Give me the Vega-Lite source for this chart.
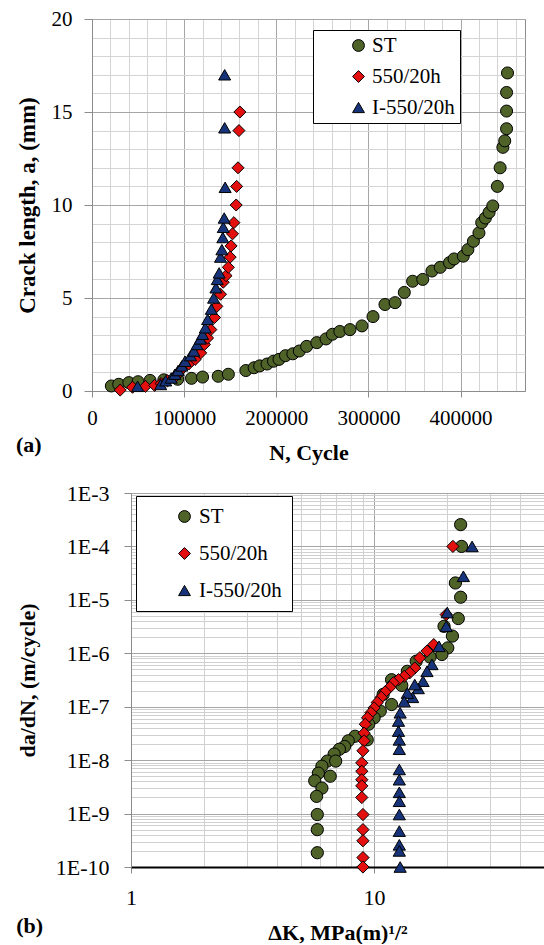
{
  "$schema": "https://vega.github.io/schema/vega-lite/v6.json",
  "padding": {"left": 15, "top": 7, "right": 0, "bottom": 0},
  "spacing": 18,
  "config": {
    "font": "Liberation Serif",
    "view": {"stroke": "#8c8c8c", "strokeWidth": 1},
    "axis": {"labelFont": "Liberation Serif", "titleFont": "Liberation Serif", "labelColor": "black", "titleColor": "black", "titleFontWeight": "bold", "labelOverlap": false, "labelFlush": false, "domainColor": "#8c8c8c", "tickColor": "#8c8c8c"},
    "legend": {"labelFont": "Liberation Serif", "labelColor": "black", "labelFontSize": 21, "strokeColor": "black", "fillColor": "white", "symbolStrokeColor": "black", "symbolStrokeWidth": 1, "symbolSize": 140},
    "title": {"font": "Liberation Serif", "fontWeight": "bold", "color": "black"}
  },
  "datasets": {
    "a": [
      {"N": 21000, "a": 0.27, "series": "ST"}, {"N": 29000, "a": 0.36, "series": "ST"}, {"N": 40000, "a": 0.45, "series": "ST"}, {"N": 50000, "a": 0.5, "series": "ST"}, {"N": 63000, "a": 0.57, "series": "ST"}, {"N": 78000, "a": 0.6, "series": "ST"}, {"N": 93000, "a": 0.63, "series": "ST"}, {"N": 108000, "a": 0.68, "series": "ST"}, {"N": 120000, "a": 0.75, "series": "ST"}, {"N": 137000, "a": 0.79, "series": "ST"}, {"N": 148000, "a": 0.9, "series": "ST"}, {"N": 167000, "a": 1.1, "series": "ST"}, {"N": 176000, "a": 1.25, "series": "ST"}, {"N": 182000, "a": 1.35, "series": "ST"}, {"N": 190000, "a": 1.45, "series": "ST"}, {"N": 197000, "a": 1.6, "series": "ST"}, {"N": 203000, "a": 1.7, "series": "ST"}, {"N": 210000, "a": 1.9, "series": "ST"}, {"N": 218000, "a": 2.0, "series": "ST"}, {"N": 225000, "a": 2.15, "series": "ST"}, {"N": 233000, "a": 2.4, "series": "ST"}, {"N": 244000, "a": 2.6, "series": "ST"}, {"N": 254000, "a": 2.8, "series": "ST"}, {"N": 261000, "a": 3.05, "series": "ST"}, {"N": 269000, "a": 3.2, "series": "ST"}, {"N": 280000, "a": 3.3, "series": "ST"}, {"N": 293000, "a": 3.5, "series": "ST"}, {"N": 305000, "a": 4.0, "series": "ST"}, {"N": 318000, "a": 4.65, "series": "ST"}, {"N": 329000, "a": 4.75, "series": "ST"}, {"N": 339000, "a": 5.3, "series": "ST"}, {"N": 348000, "a": 5.9, "series": "ST"}, {"N": 359000, "a": 6.0, "series": "ST"}, {"N": 369000, "a": 6.45, "series": "ST"}, {"N": 378000, "a": 6.65, "series": "ST"}, {"N": 388000, "a": 6.9, "series": "ST"}, {"N": 393000, "a": 7.1, "series": "ST"}, {"N": 403000, "a": 7.25, "series": "ST"}, {"N": 408000, "a": 7.6, "series": "ST"}, {"N": 414000, "a": 8.05, "series": "ST"}, {"N": 420000, "a": 8.5, "series": "ST"}, {"N": 423000, "a": 9.05, "series": "ST"}, {"N": 427000, "a": 9.3, "series": "ST"}, {"N": 431000, "a": 9.6, "series": "ST"}, {"N": 435000, "a": 9.95, "series": "ST"}, {"N": 440000, "a": 11.0, "series": "ST"}, {"N": 443000, "a": 12.0, "series": "ST"}, {"N": 446000, "a": 13.1, "series": "ST"}, {"N": 448000, "a": 13.45, "series": "ST"}, {"N": 450000, "a": 14.1, "series": "ST"}, {"N": 450000, "a": 15.05, "series": "ST"}, {"N": 450000, "a": 16.05, "series": "ST"}, {"N": 451000, "a": 17.1, "series": "ST"},
      {"N": 30600, "a": 0.05, "series": "550/20h"}, {"N": 44000, "a": 0.2, "series": "550/20h"}, {"N": 58000, "a": 0.25, "series": "550/20h"}, {"N": 68000, "a": 0.3, "series": "550/20h"}, {"N": 75000, "a": 0.4, "series": "550/20h"}, {"N": 82000, "a": 0.55, "series": "550/20h"}, {"N": 91000, "a": 0.8, "series": "550/20h"}, {"N": 97000, "a": 1.15, "series": "550/20h"}, {"N": 105000, "a": 1.45, "series": "550/20h"}, {"N": 112000, "a": 1.7, "series": "550/20h"}, {"N": 118000, "a": 2.05, "series": "550/20h"}, {"N": 122000, "a": 2.5, "series": "550/20h"}, {"N": 125500, "a": 2.85, "series": "550/20h"}, {"N": 129000, "a": 3.3, "series": "550/20h"}, {"N": 133000, "a": 3.95, "series": "550/20h"}, {"N": 135500, "a": 4.55, "series": "550/20h"}, {"N": 139500, "a": 5.2, "series": "550/20h"}, {"N": 142500, "a": 5.85, "series": "550/20h"}, {"N": 145500, "a": 6.2, "series": "550/20h"}, {"N": 148000, "a": 6.65, "series": "550/20h"}, {"N": 150000, "a": 7.2, "series": "550/20h"}, {"N": 151000, "a": 7.8, "series": "550/20h"}, {"N": 152500, "a": 8.45, "series": "550/20h"}, {"N": 154000, "a": 9.05, "series": "550/20h"}, {"N": 156500, "a": 10.0, "series": "550/20h"}, {"N": 157000, "a": 11.0, "series": "550/20h"}, {"N": 158500, "a": 12.0, "series": "550/20h"}, {"N": 159500, "a": 14.0, "series": "550/20h"}, {"N": 160500, "a": 15.0, "series": "550/20h"},
      {"N": 49500, "a": 0.25, "series": "I-550/20h"}, {"N": 74500, "a": 0.35, "series": "I-550/20h"}, {"N": 80000, "a": 0.55, "series": "I-550/20h"}, {"N": 86000, "a": 0.7, "series": "I-550/20h"}, {"N": 90000, "a": 0.9, "series": "I-550/20h"}, {"N": 93500, "a": 1.1, "series": "I-550/20h"}, {"N": 97500, "a": 1.35, "series": "I-550/20h"}, {"N": 101000, "a": 1.6, "series": "I-550/20h"}, {"N": 107000, "a": 1.9, "series": "I-550/20h"}, {"N": 110500, "a": 2.15, "series": "I-550/20h"}, {"N": 114000, "a": 2.5, "series": "I-550/20h"}, {"N": 117500, "a": 2.8, "series": "I-550/20h"}, {"N": 120000, "a": 3.05, "series": "I-550/20h"}, {"N": 123000, "a": 3.4, "series": "I-550/20h"}, {"N": 125500, "a": 3.85, "series": "I-550/20h"}, {"N": 129500, "a": 4.4, "series": "I-550/20h"}, {"N": 132000, "a": 5.0, "series": "I-550/20h"}, {"N": 134500, "a": 5.55, "series": "I-550/20h"}, {"N": 136000, "a": 6.0, "series": "I-550/20h"}, {"N": 138000, "a": 6.35, "series": "I-550/20h"}, {"N": 139500, "a": 7.2, "series": "I-550/20h"}, {"N": 141000, "a": 7.6, "series": "I-550/20h"}, {"N": 142000, "a": 8.25, "series": "I-550/20h"}, {"N": 142500, "a": 8.8, "series": "I-550/20h"}, {"N": 143500, "a": 9.3, "series": "I-550/20h"}, {"N": 144500, "a": 10.95, "series": "I-550/20h"}, {"N": 144000, "a": 14.15, "series": "I-550/20h"}, {"N": 144000, "a": 17.0, "series": "I-550/20h"}
    ],
    "b": [
      {"dK": 22.7, "r": 2.56e-4, "series": "ST"}, {"dK": 22.9, "r": 1.0e-4, "series": "ST"}, {"dK": 21.6, "r": 2.07e-5, "series": "ST"}, {"dK": 22.7, "r": 1.12e-5, "series": "ST"}, {"dK": 22.2, "r": 4.47e-6, "series": "ST"}, {"dK": 19.4, "r": 3.2e-6, "series": "ST"}, {"dK": 21.0, "r": 2.1e-6, "series": "ST"}, {"dK": 20.1, "r": 1.26e-6, "series": "ST"}, {"dK": 19.0, "r": 9.5e-7, "series": "ST"}, {"dK": 17.0, "r": 8.5e-7, "series": "ST"}, {"dK": 14.9, "r": 7.1e-7, "series": "ST"}, {"dK": 13.7, "r": 4.6e-7, "series": "ST"}, {"dK": 11.8, "r": 3.2e-7, "series": "ST"}, {"dK": 12.6, "r": 3.0e-7, "series": "ST"}, {"dK": 13.0, "r": 2.5e-7, "series": "ST"}, {"dK": 10.9, "r": 1.7e-7, "series": "ST"}, {"dK": 11.8, "r": 1.1e-7, "series": "ST"}, {"dK": 10.6, "r": 8.3e-8, "series": "ST"}, {"dK": 10.0, "r": 6.2e-8, "series": "ST"}, {"dK": 9.5, "r": 4.7e-8, "series": "ST"}, {"dK": 9.37, "r": 2.4e-8, "series": "ST"}, {"dK": 8.35, "r": 2.8e-8, "series": "ST"}, {"dK": 7.83, "r": 2.3e-8, "series": "ST"}, {"dK": 7.56, "r": 1.8e-8, "series": "ST"}, {"dK": 7.2, "r": 1.6e-8, "series": "ST"}, {"dK": 6.85, "r": 1.3e-8, "series": "ST"}, {"dK": 6.42, "r": 9.6e-9, "series": "ST"}, {"dK": 6.95, "r": 9.6e-9, "series": "ST"}, {"dK": 6.1, "r": 7.7e-9, "series": "ST"}, {"dK": 5.9, "r": 5.7e-9, "series": "ST"}, {"dK": 6.6, "r": 5.0e-9, "series": "ST"}, {"dK": 5.7, "r": 4.1e-9, "series": "ST"}, {"dK": 6.1, "r": 3.0e-9, "series": "ST"}, {"dK": 5.8, "r": 2.1e-9, "series": "ST"}, {"dK": 5.84, "r": 9.6e-10, "series": "ST"}, {"dK": 5.84, "r": 5.0e-10, "series": "ST"}, {"dK": 5.84, "r": 1.85e-10, "series": "ST"},
      {"dK": 21.1, "r": 1.0e-4, "series": "550/20h"}, {"dK": 19.8, "r": 5.3e-6, "series": "550/20h"}, {"dK": 17.6, "r": 1.45e-6, "series": "550/20h"}, {"dK": 16.5, "r": 1.1e-6, "series": "550/20h"}, {"dK": 15.4, "r": 8.2e-7, "series": "550/20h"}, {"dK": 14.7, "r": 5.3e-7, "series": "550/20h"}, {"dK": 14.0, "r": 4.3e-7, "series": "550/20h"}, {"dK": 13.3, "r": 3.7e-7, "series": "550/20h"}, {"dK": 12.6, "r": 3.2e-7, "series": "550/20h"}, {"dK": 12.0, "r": 2.8e-7, "series": "550/20h"}, {"dK": 11.6, "r": 2.3e-7, "series": "550/20h"}, {"dK": 11.1, "r": 1.9e-7, "series": "550/20h"}, {"dK": 10.7, "r": 1.5e-7, "series": "550/20h"}, {"dK": 10.3, "r": 1.2e-7, "series": "550/20h"}, {"dK": 10.0, "r": 9.5e-8, "series": "550/20h"}, {"dK": 9.7, "r": 7.7e-8, "series": "550/20h"}, {"dK": 9.4, "r": 6.2e-8, "series": "550/20h"}, {"dK": 9.2, "r": 4.7e-8, "series": "550/20h"}, {"dK": 9.1, "r": 3.2e-8, "series": "550/20h"}, {"dK": 9.1, "r": 2.3e-8, "series": "550/20h"}, {"dK": 9.0, "r": 1.5e-8, "series": "550/20h"}, {"dK": 8.9, "r": 8.9e-9, "series": "550/20h"}, {"dK": 8.9, "r": 6.2e-9, "series": "550/20h"}, {"dK": 8.9, "r": 4.3e-9, "series": "550/20h"}, {"dK": 8.9, "r": 3.3e-9, "series": "550/20h"}, {"dK": 8.9, "r": 2.0e-9, "series": "550/20h"}, {"dK": 9.0, "r": 9.6e-10, "series": "550/20h"}, {"dK": 9.0, "r": 5.0e-10, "series": "550/20h"}, {"dK": 9.0, "r": 3.1e-10, "series": "550/20h"}, {"dK": 9.0, "r": 1.5e-10, "series": "550/20h"}, {"dK": 9.0, "r": 1.0e-10, "series": "550/20h"},
      {"dK": 25.3, "r": 1.0e-4, "series": "I-550/20h"}, {"dK": 23.3, "r": 2.76e-5, "series": "I-550/20h"}, {"dK": 20.0, "r": 5.8e-6, "series": "I-550/20h"}, {"dK": 19.8, "r": 3.2e-6, "series": "I-550/20h"}, {"dK": 18.5, "r": 1.35e-6, "series": "I-550/20h"}, {"dK": 17.3, "r": 6.2e-7, "series": "I-550/20h"}, {"dK": 16.5, "r": 4.6e-7, "series": "I-550/20h"}, {"dK": 15.9, "r": 3.0e-7, "series": "I-550/20h"}, {"dK": 15.2, "r": 2.2e-7, "series": "I-550/20h"}, {"dK": 14.7, "r": 2.6e-7, "series": "I-550/20h"}, {"dK": 14.4, "r": 1.5e-7, "series": "I-550/20h"}, {"dK": 13.7, "r": 1.8e-7, "series": "I-550/20h"}, {"dK": 13.3, "r": 1.25e-7, "series": "I-550/20h"}, {"dK": 12.8, "r": 7.7e-8, "series": "I-550/20h"}, {"dK": 12.6, "r": 5.4e-8, "series": "I-550/20h"}, {"dK": 12.6, "r": 3.5e-8, "series": "I-550/20h"}, {"dK": 12.7, "r": 2.4e-8, "series": "I-550/20h"}, {"dK": 12.7, "r": 1.6e-8, "series": "I-550/20h"}, {"dK": 12.7, "r": 6.7e-9, "series": "I-550/20h"}, {"dK": 12.7, "r": 4.3e-9, "series": "I-550/20h"}, {"dK": 12.7, "r": 2.5e-9, "series": "I-550/20h"}, {"dK": 12.7, "r": 1.7e-9, "series": "I-550/20h"}, {"dK": 12.7, "r": 9.6e-10, "series": "I-550/20h"}, {"dK": 12.7, "r": 4.7e-10, "series": "I-550/20h"}, {"dK": 12.7, "r": 2.6e-10, "series": "I-550/20h"}, {"dK": 12.7, "r": 2.0e-10, "series": "I-550/20h"}, {"dK": 12.8, "r": 1.0e-10, "series": "I-550/20h"}
    ]
  },
  "vconcat": [
    {
      "width": 433,
      "height": 372,
      "data": {"name": "a"},
      "title": {"text": "(a)", "orient": "bottom", "anchor": "start", "frame": "bounds", "fontSize": 22, "offset": -28},
      "mark": {"type": "point", "filled": true, "stroke": "black", "strokeWidth": 1, "size": 145, "opacity": 1},
      "encoding": {
        "x": {"field": "N", "type": "quantitative", "scale": {"domain": [0, 470000], "nice": false},
          "axis": {"title": "N, Cycle", "titleFontSize": 22, "labelFontSize": 21, "format": "d",
            "values": [0, 20000, 40000, 60000, 80000, 100000, 120000, 140000, 160000, 180000, 200000, 220000, 240000, 260000, 280000, 300000, 320000, 340000, 360000, 380000, 400000, 420000, 440000, 460000],
            "labelExpr": "datum.value % 100000 === 0 ? datum.label : ''",
            "gridColor": {"condition": {"test": "datum.value % 100000 === 0", "value": "#a6a6a6"}, "value": "#d4d4d4"},
            "tickOpacity": {"condition": {"test": "datum.value % 100000 === 0", "value": 1}, "value": 0},
            "tickSize": 6, "labelPadding": 10, "titlePadding": 14}},
        "y": {"field": "a", "type": "quantitative", "scale": {"domain": [0, 20], "nice": false},
          "axis": {"title": "Crack length, a, (mm)", "titleFontSize": 23, "labelFontSize": 21,
            "values": [0, 1, 2, 3, 4, 5, 6, 7, 8, 9, 10, 11, 12, 13, 14, 15, 16, 17, 18, 19, 20],
            "labelExpr": "datum.value % 5 === 0 ? datum.label : ''",
            "gridColor": {"condition": {"test": "datum.value % 5 === 0", "value": "#a6a6a6"}, "value": "#d4d4d4"},
            "tickOpacity": {"condition": {"test": "datum.value % 5 === 0", "value": 1}, "value": 0},
            "tickSize": 8, "labelPadding": 12, "titlePadding": 12}},
        "color": {"field": "series", "type": "nominal", "sort": null,
          "scale": {"domain": ["ST", "550/20h", "I-550/20h"], "range": ["#4f6228", "#e3100f", "#17337a"]},
          "legend": {"title": null, "orient": "none", "legendX": 221, "legendY": 11, "padding": 5, "rowPadding": 9, "symbolOffset": 30, "labelOffset": 3}},
        "shape": {"field": "series", "type": "nominal", "sort": null,
          "scale": {"domain": ["ST", "550/20h", "I-550/20h"], "range": ["circle", "diamond", "triangle-up"]},
          "legend": {"title": null, "orient": "none", "legendX": 221, "legendY": 11, "padding": 5, "rowPadding": 9, "symbolOffset": 30, "labelOffset": 3}}
      }
    },
    {
      "title": {"text": "(b)", "orient": "bottom", "anchor": "start", "frame": "bounds", "fontSize": 22, "offset": -28},
      "spacing": 0,
      "bounds": "flush",
      "hconcat": [
        {
          "width": 39,
          "height": 374,
          "view": {"stroke": null},
          "data": {"name": "b"},
          "mark": {"type": "point", "opacity": 0},
          "encoding": {
            "y": {"field": "r", "type": "quantitative", "scale": {"type": "log", "domain": [1e-10, 1e-3], "nice": false},
              "axis": {"title": "da/dN,  (m/cycle)", "titleFontSize": 22, "labelFontSize": 22, "offset": -39, "domain": false, "grid": false,
                "values": [1e-10, 2e-10, 3e-10, 4e-10, 5e-10, 6e-10, 7e-10, 8e-10, 9e-10, 1e-9, 2e-9, 3e-9, 4e-9, 5e-9, 6e-9, 7e-9, 8e-9, 9e-9, 1e-8, 2e-8, 3e-8, 4e-8, 5e-8, 6e-8, 7e-8, 8e-8, 9e-8, 1e-7, 2e-7, 3e-7, 4e-7, 5e-7, 6e-7, 7e-7, 8e-7, 9e-7, 1e-6, 2e-6, 3e-6, 4e-6, 5e-6, 6e-6, 7e-6, 8e-6, 9e-6, 1e-5, 2e-5, 3e-5, 4e-5, 5e-5, 6e-5, 7e-5, 8e-5, 9e-5, 1e-4, 2e-4, 3e-4, 4e-4, 5e-4, 6e-4, 7e-4, 8e-4, 9e-4, 1e-3],
                "labelExpr": "abs(log(datum.value)/LN10 - round(log(datum.value)/LN10)) < 0.001 ? '1E' + round(log(datum.value)/LN10) : ''",
                "tickOpacity": {"condition": {"test": "abs(log(datum.value)/LN10 - round(log(datum.value)/LN10)) < 0.001", "value": 1}, "value": 0},
                "tickSize": 7, "labelPadding": 15, "titlePadding": 16}}
          }
        },
        {
          "width": 413,
          "height": 374,
          "data": {"name": "b"},
          "mark": {"type": "point", "filled": true, "stroke": "black", "strokeWidth": 1, "size": 150, "opacity": 1},
          "encoding": {
            "x": {"field": "dK", "type": "quantitative", "scale": {"type": "log", "domain": [1, 50], "nice": false},
              "axis": {"title": "ΔK, MPa(m)¹/²", "titleFontSize": 22, "labelFontSize": 22,
                "values": [1, 2, 3, 4, 5, 6, 7, 8, 9, 10, 20, 30, 40, 50],
                "labelExpr": "abs(log(datum.value)/LN10 - round(log(datum.value)/LN10)) < 0.001 ? '' + datum.value : ''",
                "gridColor": {"condition": {"test": "abs(log(datum.value)/LN10 - round(log(datum.value)/LN10)) < 0.001", "value": "#a6a6a6"}, "value": "#d0d0d0"},
                "tickOpacity": {"condition": {"test": "abs(log(datum.value)/LN10 - round(log(datum.value)/LN10)) < 0.001", "value": 1}, "value": 0},
                "domainColor": "black", "domainWidth": 2, "tickSize": 6, "labelPadding": 14, "titlePadding": 14}},
            "y": {"field": "r", "type": "quantitative", "scale": {"type": "log", "domain": [1e-10, 1e-3], "nice": false},
              "axis": {"title": null, "labels": false, "ticks": false,
                "values": [1e-10, 2e-10, 3e-10, 4e-10, 5e-10, 6e-10, 7e-10, 8e-10, 9e-10, 1e-9, 2e-9, 3e-9, 4e-9, 5e-9, 6e-9, 7e-9, 8e-9, 9e-9, 1e-8, 2e-8, 3e-8, 4e-8, 5e-8, 6e-8, 7e-8, 8e-8, 9e-8, 1e-7, 2e-7, 3e-7, 4e-7, 5e-7, 6e-7, 7e-7, 8e-7, 9e-7, 1e-6, 2e-6, 3e-6, 4e-6, 5e-6, 6e-6, 7e-6, 8e-6, 9e-6, 1e-5, 2e-5, 3e-5, 4e-5, 5e-5, 6e-5, 7e-5, 8e-5, 9e-5, 1e-4, 2e-4, 3e-4, 4e-4, 5e-4, 6e-4, 7e-4, 8e-4, 9e-4, 1e-3],
                "gridColor": {"condition": {"test": "abs(log(datum.value)/LN10 - round(log(datum.value)/LN10)) < 0.001", "value": "#a6a6a6"}, "value": "#d0d0d0"}}},
            "color": {"field": "series", "type": "nominal", "sort": null,
              "scale": {"domain": ["ST", "550/20h", "I-550/20h"], "range": ["#4f6228", "#e3100f", "#17337a"]},
              "legend": {"title": null, "orient": "none", "legendX": 44, "legendY": 3, "padding": 10, "rowPadding": 15, "symbolOffset": 28, "labelOffset": 4}},
            "shape": {"field": "series", "type": "nominal", "sort": null,
              "scale": {"domain": ["ST", "550/20h", "I-550/20h"], "range": ["circle", "diamond", "triangle-up"]},
              "legend": {"title": null, "orient": "none", "legendX": 44, "legendY": 3, "padding": 10, "rowPadding": 15, "symbolOffset": 28, "labelOffset": 4}}
          }
        }
      ],
      "resolve": {"scale": {"y": "independent"}}
    }
  ],
  "resolve": {"scale": {"color": "independent", "shape": "independent"}, "legend": {"color": "independent", "shape": "independent"}}
}
